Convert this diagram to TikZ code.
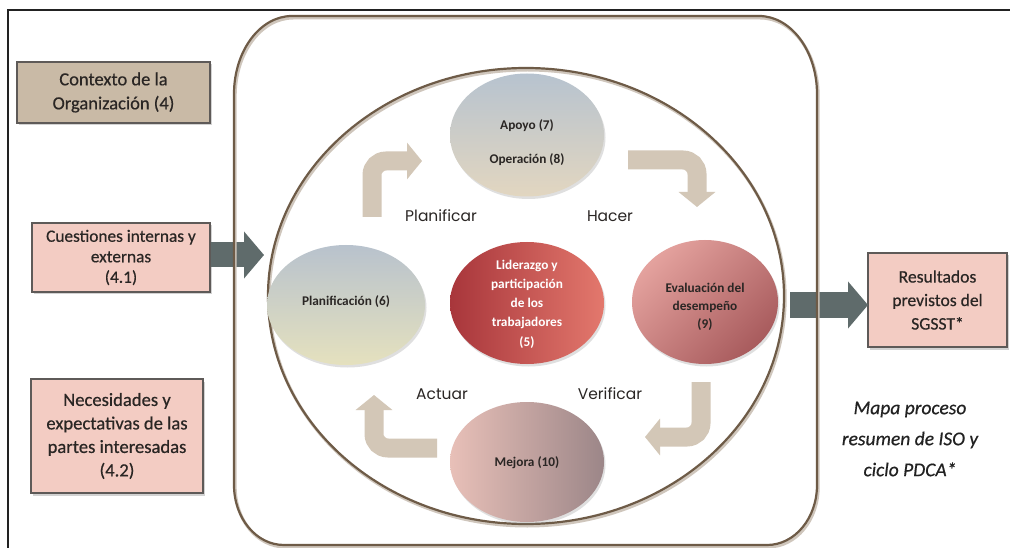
\documentclass[tikz,border=0pt]{standalone}
\usepackage{fontspec}
\setmainfont{Carlito}
\newfontfamily\medfont[FakeBold=0.5]{Carlito}
\newfontfamily\gothic{Poppins}
\usetikzlibrary{shapes.geometric,arrows.meta,shadows}

\definecolor{tanfill}{HTML}{C9BAA6}
\definecolor{pinkfill}{HTML}{F3CCC3}
\definecolor{boxline}{HTML}{5E5A58}
\definecolor{garrowc}{HTML}{5F6B6B}
\definecolor{carrowc}{HTML}{D3C7B7}
\definecolor{brownline}{HTML}{6E5B47}
\definecolor{brownshadow}{HTML}{CFC6BC}
\definecolor{txt}{HTML}{2A2624}
\definecolor{framec}{HTML}{222222}
\definecolor{apoyotop}{HTML}{B7C3CF}
\definecolor{apoyobot}{HTML}{E2D6C0}
\definecolor{plantop}{HTML}{B8C2CD}
\definecolor{planbot}{HTML}{E5E1BE}
\definecolor{liderl}{HTML}{A8363B}
\definecolor{liderr}{HTML}{E3786D}
\definecolor{evaltop}{HTML}{E4A29E}
\definecolor{evalbot}{HTML}{A85B5D}
\definecolor{mejl}{HTML}{E8C0B8}
\definecolor{mejr}{HTML}{9C8688}

\tikzset{
  box/.style={draw=boxline, line width=1.6pt, align=center, text=txt, inner sep=0pt,
    drop shadow={shadow xshift=1.5pt, shadow yshift=-2.5pt, opacity=0.35}},
  ell/.style={ellipse, inner sep=0pt, draw=none,
    drop shadow={shadow xshift=1.5pt, shadow yshift=-2.5pt, opacity=0.25}},
  etext/.style={align=center, text=txt, font=\bfseries\fontsize{13.3}{19.3}\selectfont, inner sep=0pt},
  pdca/.style={text=txt, font=\gothic\fontsize{15.5}{18}\selectfont, inner sep=0pt},
  garrow/.style={draw=garrowc, line width=25pt, -{Triangle[length=20pt,width=46pt]}},
  carrow/.style={draw=carrowc, line width=19pt, rounded corners=14pt, -{Triangle[length=15pt,width=36pt]}},
}

\begin{document}
\begin{tikzpicture}[x=1pt,y=-1pt]
\useasboundingbox[fill=white] (0,0) rectangle (1010,548);

% page frame
\draw[framec, line width=1.5pt] (8,548) -- (8,10) -- (1010,10);

% left boxes
\node[box, fill=tanfill, minimum width=193pt, minimum height=61pt,
  font=\medfont\fontsize{18.5}{24}\selectfont] (ctx) at (113.5,92.5)
  {Contexto de la\\Organización (4)};
\node[box, fill=pinkfill, minimum width=178pt, minimum height=69pt,
  font=\medfont\fontsize{17.3}{20.5}\selectfont] (cuest) at (121,257.5)
  {Cuestiones internas y\\externas\\(4.1)};
\node[box, fill=pinkfill, minimum width=172pt, minimum height=114pt,
  font=\medfont\fontsize{18.6}{23.5}\selectfont] (neces) at (117,436)
  {Necesidades y\\expectativas de las\\partes interesadas\\(4.2)};
\node[box, fill=pinkfill, minimum width=139pt, minimum height=94pt,
  font=\medfont\fontsize{17.6}{23.5}\selectfont] (res) at (937.5,300)
  {Resultados\\previstos del\\SGSST*};

\node[align=center, text=framec, inner sep=0pt,
  font=\medfont\itshape\fontsize{19.5}{31}\selectfont] (mapa) at (910,439)
  {Mapa proceso\\resumen de ISO y\\ciclo PDCA*};

% gray block arrows
\coordinate (la0) at (211,255);
\coordinate (la1) at (264,255);
\coordinate (ra0) at (790,305);
\coordinate (ra1) at (868,305);
\draw[garrow] (la0) -- (la1);
\draw[garrow] (ra0) -- (ra1);

% outer rounded frame (elliptic corners)
\draw[brownshadow, line width=3pt, shift={(1.2,2)}]
  (292,16) -- (759,16) .. controls (791,16) and (817,51) .. (817,94)
  -- (817,485) .. controls (817,518) and (795,545) .. (767,545)
  -- (284,545) .. controls (256,545) and (234,518) .. (234,485)
  -- (234,94) .. controls (234,51) and (260,16) .. (292,16) -- cycle;
\draw[brownline, line width=2.2pt]
  (292,16) -- (759,16) .. controls (791,16) and (817,51) .. (817,94)
  -- (817,485) .. controls (817,518) and (795,545) .. (767,545)
  -- (284,545) .. controls (256,545) and (234,518) .. (234,485)
  -- (234,94) .. controls (234,51) and (260,16) .. (292,16) -- cycle;

% big ellipse
\node[ellipse, draw=brownshadow, line width=3pt, minimum width=516pt, minimum height=456pt, inner sep=0pt] (bigsh) at (527.2,298) {};
\node[ellipse, draw=brownline, line width=2.2pt, minimum width=516pt, minimum height=456pt, inner sep=0pt] (big) at (526,296) {};

% process ellipses
\node[ell, top color=apoyotop, bottom color=apoyobot, minimum width=154pt, minimum height=123pt] (apoyo) at (527,135) {};
\node[etext] (apoyot) at (527,126) {Apoyo (7)};
\node[etext] (opert) at (527,160) {Operación (8)};

\node[ell, top color=plantop, bottom color=planbot, minimum width=158pt, minimum height=120pt] (plan) at (346,305) {};
\node[etext] (plant) at (346,302) {Planificación (6)};

\node[ell, left color=liderl, right color=liderr, minimum width=154pt, minimum height=122pt] (lider) at (527,303) {};
\node[etext, text=white] (lidert) at (527,304) {Liderazgo y\\participación\\de los\\trabajadores\\(5)};

\node[ell, top color=evaltop, bottom color=evalbot, shading angle=45, minimum width=146pt, minimum height=124pt] (eval) at (705,302) {};
\node[etext, font=\bfseries\fontsize{13.3}{18}\selectfont] (evalt) at (705,307) {Evaluación del\\desempeño\\(9)};

\node[ell, left color=mejl, right color=mejr, minimum width=154pt, minimum height=120pt] (mejora) at (527,462) {};
\node[etext] (mejorat) at (527,463) {Mejora (10)};

% PDCA labels
\node[pdca] (lplan) at (441,216) {Planificar};
\node[pdca] (lhacer) at (610,216) {Hacer};
\node[pdca] (lactuar) at (442,394) {Actuar};
\node[pdca] (lverif) at (610,394) {Verificar};

% curved PDCA arrows
\coordinate (pa0) at (372,217);
\coordinate (pa1) at (422,161);
\coordinate (ha0) at (628,160);
\coordinate (ha1) at (697,207);
\coordinate (va0) at (701,382);
\coordinate (va1) at (645,437);
\coordinate (aa0) at (437,448);
\coordinate (aa1) at (374,395);
\draw[carrow] (pa0) |- (pa1);
\draw[carrow] (ha0) -| (ha1);
\draw[carrow] (va0) |- (va1);
\draw[carrow] (aa0) -| (aa1);
\end{tikzpicture}
\end{document}
